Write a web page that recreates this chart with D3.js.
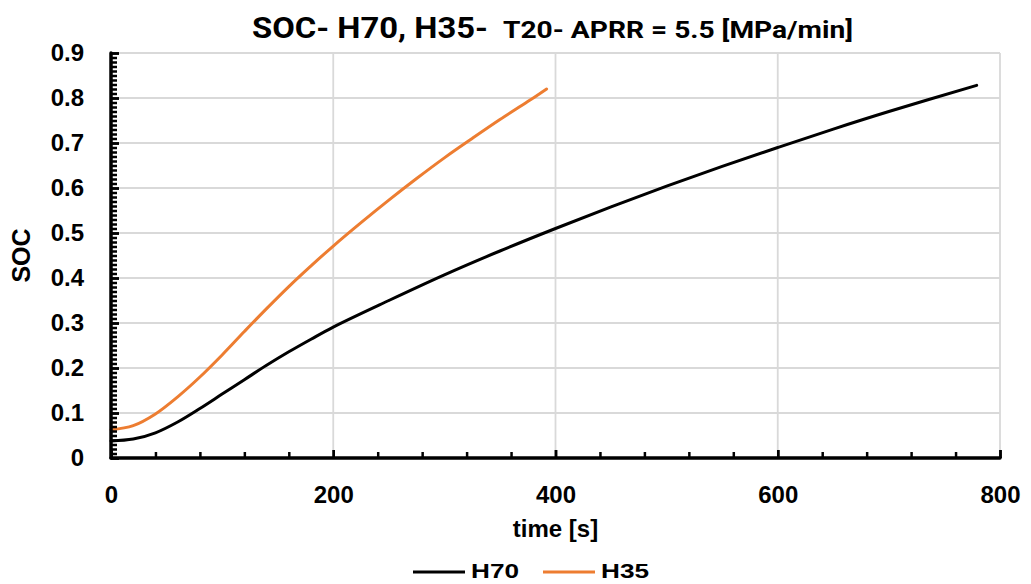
<!DOCTYPE html>
<html>
<head>
<meta charset="utf-8">
<script src="https://cdn.jsdelivr.net/npm/d3@7"></script>
<style>
  body { margin: 0; background: #fff; }
  text { font-family: "Liberation Sans", Arial, sans-serif; font-weight: bold; fill: #000; }
</style>
</head>
<body>
<div id="chart"></div>
<script>
// data
const h70Time = [0, 20, 40, 60, 80, 100, 120, 140, 160, 180, 200, 250, 300, 350, 400, 450, 500, 550, 600, 650, 700, 779];
const h70Soc = [0.038, 0.042, 0.056, 0.080, 0.110, 0.142, 0.174, 0.206, 0.236, 0.264, 0.291, 0.350, 0.407, 0.460, 0.510, 0.558, 0.604, 0.648, 0.690, 0.731, 0.770, 0.828];

const h35Time = [0, 20, 40, 60, 80, 100, 120, 140, 160, 180, 200, 225, 250, 275, 300, 325, 350, 375, 392];
const h35Soc = [0.063, 0.072, 0.098, 0.136, 0.180, 0.229, 0.281, 0.332, 0.381, 0.427, 0.471, 0.523, 0.573, 0.621, 0.667, 0.710, 0.752, 0.792, 0.820];

const xTicks = [0, 200, 400, 600, 800];
const yTicks = [0, 0.1, 0.2, 0.3, 0.4, 0.5, 0.6, 0.7, 0.8, 0.9];

const series = [
	{ name: "H70", color: "#000000", data: h70Time.map((t, i) => [t, h70Soc[i]]) },
	{ name: "H35", color: "#ED7D31", data: h35Time.map((t, i) => [t, h35Soc[i]]) },
];

const width = 1031;
const height = 584;
const margin = { top: 53, right: 31, bottom: 126, left: 111 };

const svg = d3.select("#chart")
	.append("svg")
	.attr("width", width)
	.attr("height", height);

const x = d3.scaleLinear()
	.domain([0, 800])
	.range([margin.left, width - margin.right]);

const y = d3.scaleLinear()
	.domain([0, 0.9])
	.range([height - margin.bottom, margin.top]);

// gridlines
svg.append("g")
	.selectAll("line")
	.data(yTicks.slice(1))
	.join("line")
	.attr("x1", x(0)).attr("x2", x(800))
	.attr("y1", d => y(d)).attr("y2", d => y(d))
	.attr("stroke", "#d9d9d9").attr("stroke-width", 1.8);

svg.append("g")
	.selectAll("line")
	.data(xTicks.slice(1))
	.join("line")
	.attr("x1", d => x(d)).attr("x2", d => x(d))
	.attr("y1", y(0)).attr("y2", y(0.9))
	.attr("stroke", "#d9d9d9").attr("stroke-width", 1.8);

// series
const line = d3.line()
	.x(d => x(d[0]))
	.y(d => y(d[1]))
	.curve(d3.curveCatmullRom.alpha(0.5));

svg.append("g")
	.selectAll("path")
	.data(series)
	.join("path")
	.attr("fill", "none")
	.attr("stroke", d => d.color)
	.attr("stroke-width", 3)
	.attr("stroke-linecap", "round")
	.attr("d", d => line(d.data));

// axes: ticks point into the plot
const xAxisMinor = d3.axisTop(x)
	.tickValues(d3.range(0, 801, 40))
	.tickSize(6)
	.tickFormat("");
const xAxis = d3.axisBottom(x)
	.tickValues(xTicks)
	.tickSize(0)
	.tickPadding(28);

const gx = svg.append("g")
	.attr("transform", `translate(0,${y(0)})`);
gx.append("g").call(xAxisMinor);
gx.append("g").call(xAxis);
gx.selectAll("text").style("font-size", "24px");
gx.selectAll(".tick line").attr("stroke-width", 2.5).attr("stroke", "#000");
gx.selectAll(".tick")
	.filter(d => d % 200 === 0)
	.select("line")
	.attr("y2", -8);

const yAxisMinor = d3.axisRight(y)
	.tickValues(d3.range(0, 91).map(d => d / 100))
	.tickSize(6)
	.tickFormat("");
const yAxis = d3.axisLeft(y)
	.tickValues(yTicks)
	.tickSize(0)
	.tickPadding(27)
	.tickFormat(d => d === 0 ? "0" : d3.format(".1f")(d));

const gy = svg.append("g")
	.attr("transform", `translate(${x(0)},0)`);
gy.append("g").call(yAxisMinor);
gy.append("g").call(yAxis);
gy.selectAll("text").style("font-size", "24px");
gy.selectAll(".tick line").attr("stroke-width", 2.5).attr("stroke", "#000");
gy.selectAll(".tick")
	.filter(d => Math.round(d * 100) % 10 === 0)
	.select("line")
	.attr("x2", 8);

svg.selectAll(".domain").remove();

// axis lines drawn on top
svg.append("line")
	.attr("x1", x(0)).attr("x2", x(800))
	.attr("y1", y(0)).attr("y2", y(0))
	.attr("stroke", "#000").attr("stroke-width", 3.5).attr("stroke-linecap", "round");
svg.append("line")
	.attr("x1", x(0)).attr("x2", x(0))
	.attr("y1", y(0)).attr("y2", y(0.9))
	.attr("stroke", "#000").attr("stroke-width", 3.5).attr("stroke-linecap", "round");

// titles
const titleGroup = svg.append("g");
titleGroup.append("text")
	.attr("x", 252)
	.attr("y", 38)
	.attr("textLength", 236)
	.attr("lengthAdjust", "spacingAndGlyphs")
	.style("font-family", "Roboto, sans-serif")
	.style("font-size", "30px")
	.text("SOC- H70, H35-");
titleGroup.append("text")
	.attr("x", 503)
	.attr("y", 38)
	.attr("textLength", 350)
	.attr("lengthAdjust", "spacingAndGlyphs")
	.style("font-family", "Roboto, sans-serif")
	.style("font-size", "23px")
	.text("T20- APRR = 5.5 [MPa/min]");

svg.append("text")
	.attr("x", x(400))
	.attr("y", 537)
	.attr("text-anchor", "middle")
	.style("font-size", "24px")
	.text("time [s]");

svg.append("text")
	.attr("transform", `translate(30,${y(0.45)}) rotate(-90)`)
	.attr("text-anchor", "middle")
	.style("font-size", "25px")
	.text("SOC");

// legend
const legend = svg.append("g")
	.attr("transform", "translate(413,572)");

const legendItems = legend.selectAll("g")
	.data(series)
	.join("g")
	.attr("transform", (d, i) => `translate(${i * 130},0)`);

legendItems.append("line")
	.attr("x1", 0).attr("x2", 52)
	.attr("stroke", d => d.color)
	.attr("stroke-width", 3);

legendItems.append("text")
	.attr("x", 58)
	.attr("y", 6)
	.attr("textLength", 48)
	.attr("lengthAdjust", "spacingAndGlyphs")
	.style("font-size", "21px")
	.text(d => d.name);
</script>
</body>
</html>
